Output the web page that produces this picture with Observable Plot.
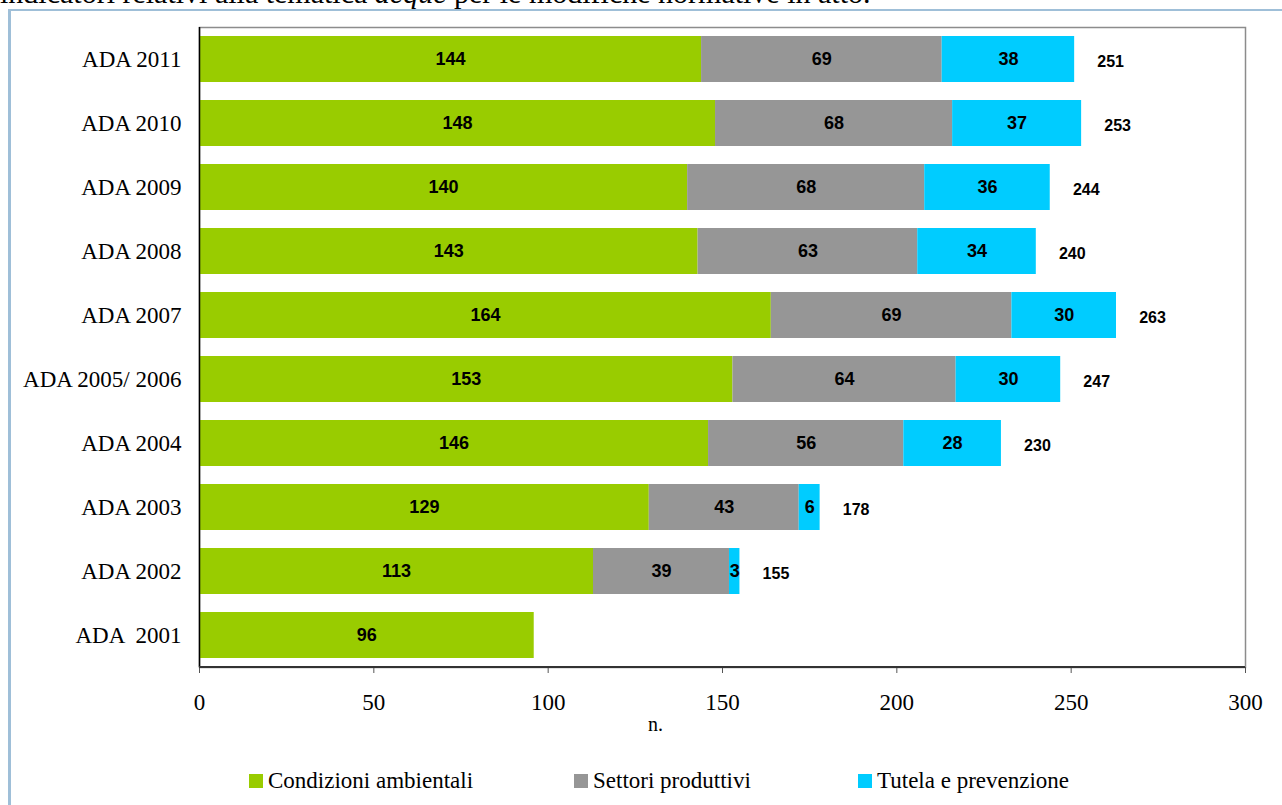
<!DOCTYPE html>
<html>
<head>
<meta charset="utf-8">
<script src="https://cdn.jsdelivr.net/npm/d3@7"></script>
<script src="https://cdn.jsdelivr.net/npm/@observablehq/plot@0.6"></script>
<style>
  html, body { margin: 0; padding: 0; background: #fff; overflow: hidden; width: 1282px; height: 805px; }
  #page { position: relative; width: 1282px; height: 805px; overflow: hidden; }
  #intro { position: absolute; left: 0; top: -22px; font-family: "Liberation Serif", serif; font-size: 30px; line-height: 30px; color: #000; white-space: nowrap; }
  #frame { position: absolute; left: 8px; top: 9px; width: 1320px; height: 900px; border: 3px solid #9fbfd8; border-top-width: 2px; box-sizing: border-box; }
  #chart { position: absolute; left: 0; top: 0; }
  #legend { position: absolute; top: 768px; left: 0; width: 1282px; height: 26px; font-family: "Liberation Serif", serif; font-size: 23px; color: #000; }
  .item { position: absolute; top: 0; display: flex; align-items: center; height: 26px; }
  .sw { width: 14px; height: 14px; margin-right: 5px; }
  #chart svg text { white-space: pre; }
</style>
</head>
<body>
<div id="page">
  <div id="intro">indicatori relativi alla tematica <i>acque</i> per le modifiche normative in atto.</div>
  <div id="frame"></div>
  <div id="chart"></div>
  <div id="legend"></div>
</div>
<script>
const categories = ["ADA 2011", "ADA 2010", "ADA 2009", "ADA 2008", "ADA 2007", "ADA 2005/ 2006", "ADA 2004", "ADA 2003", "ADA 2002", "ADA  2001"];
const condizioni = [144, 148, 140, 143, 164, 153, 146, 129, 113, 96];
const settori = [69, 68, 68, 63, 69, 64, 56, 43, 39, null];
const tutela = [38, 37, 36, 34, 30, 30, 28, 6, 3, null];
const seriesNames = ["Condizioni ambientali", "Settori produttivi", "Tutela e prevenzione"];
const seriesColors = ["#99cc00", "#969696", "#00ccff"];
const xTicks = [0, 50, 100, 150, 200, 250, 300];
const xLabel = "n.";

const seriesValues = [condizioni, settori, tutela];
const rows = [];
seriesNames.forEach((s, si) => {
  categories.forEach((c, ci) => {
    const v = seriesValues[si][ci];
    if (v != null) rows.push({cat: c, series: s, value: v});
  });
});
const totals = categories.map((c, ci) => ({
  cat: c,
  total: settori[ci] == null ? null : condizioni[ci] + settori[ci] + tutela[ci]
})).filter(d => d.total != null);

const chart = Plot.plot({
  width: 1282,
  height: 760,
  marginLeft: 199,
  marginRight: 37,
  marginTop: 27,
  marginBottom: 93,
  style: {fontFamily: "Liberation Serif, serif", fontSize: "23px", color: "#000", background: "transparent", overflow: "visible"},
  x: {domain: [0, 300]},
  y: {domain: categories, paddingInner: 0.28, paddingOuter: 0.14},
  color: {domain: seriesNames, range: seriesColors},
  marks: [
    Plot.frame({stroke: "#8c8c8c", strokeWidth: 1.5}),
    Plot.barX(rows, Plot.stackX({x: "value", y: "cat", z: "series", fill: "series", order: seriesNames})),
    Plot.text(rows, Plot.stackX({x: "value", y: "cat", z: "series", text: d => String(d.value), order: seriesNames,
      fontFamily: "Liberation Sans, Arial, sans-serif", fontWeight: "bold", fontSize: 18, fill: "#000"})),
    Plot.text(totals, {x: "total", y: "cat", text: d => String(d.total), dx: 36, dy: 2,
      fontFamily: "Liberation Sans, Arial, sans-serif", fontWeight: "bold", fontSize: 16, fill: "#000"}),
    Plot.ruleX([0], {stroke: "#000", strokeWidth: 1.5}),
    Plot.axisY({tickSize: 0, tickPadding: 18, label: null, fontSize: 23}),
    Plot.axisX({ticks: xTicks, tickSize: 6, tickPadding: 20, label: null, fontSize: 23, stroke: "#555"}),
    Plot.text([xLabel], {frameAnchor: "bottom", text: d => d, dx: -67, dy: 63, fontSize: 20, fill: "#000"})
  ]
});
document.getElementById("chart").appendChild(chart);

// dark bottom axis line
const svg = d3.select(chart);
svg.append("line").attr("x1", 199).attr("x2", 1245).attr("y1", 667).attr("y2", 667)
  .attr("stroke", "#333").attr("stroke-width", 2);

const legendPositions = [249, 574, 858];
const legend = document.getElementById("legend");
seriesNames.forEach((s, i) => {
  const item = document.createElement("div");
  item.className = "item";
  item.style.left = legendPositions[i] + "px";
  item.innerHTML = `<span class="sw" style="background:${seriesColors[i]}"></span><span>${s}</span>`;
  legend.appendChild(item);
});
</script>
</body>
</html>
